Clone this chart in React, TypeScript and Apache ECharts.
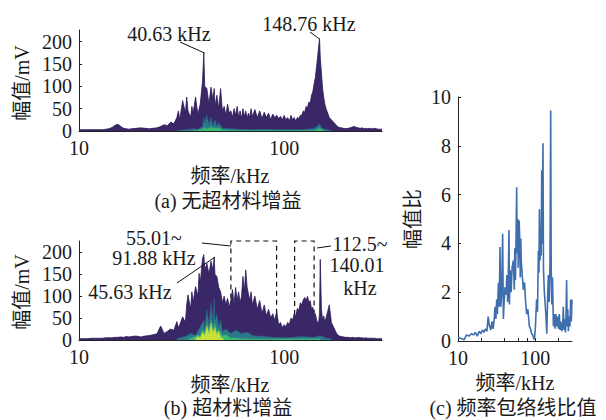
import React, { useEffect, useRef } from "react";
import * as echarts from "echarts";

// ---------- data ----------
const freqAB = [
  10, 10.5, 11, 11.5, 12, 12.5, 13, 13.5, 14, 14.5, 15, 15.5, 16, 16.5, 17, 17.5, 18, 19, 20, 21, 22, 23, 24, 25,
  26, 27, 28, 29, 30, 30.5, 31, 32, 33, 33.5, 34, 35, 35.5, 36, 37, 38, 38.5, 39, 40, 40.6, 41, 42,
  43, 44, 45, 45.6, 46, 47, 48, 49, 50, 51, 52, 53, 54, 55, 56, 57, 58, 59, 60, 61, 62, 63, 64, 65, 66, 67, 68, 69, 70,
  72, 74, 76, 78, 80, 82, 84, 86, 88, 90, 92, 94, 96, 98, 100,
  102, 104, 106, 108, 110, 112, 114, 116, 118, 120, 122, 124, 126, 128, 130, 132, 134, 136, 138, 140,
  142, 144, 146, 147, 148.8, 150, 152, 154, 156, 158, 160, 163, 166, 170, 174, 178, 182, 186, 190, 195,
  200, 205, 210, 215, 220, 225, 230, 235, 240, 245, 250, 255, 260, 265, 270, 276, 282, 288, 294, 300,
];

// (a) no metamaterial gain – envelope of spectra (mV)
const ampA = [
  3, 3, 3, 3, 3, 3, 3, 4, 5, 8, 13, 15, 10, 6, 5, 4, 5, 6, 7, 6, 5, 6, 7, 10,
  14, 12, 20, 16, 30, 45, 25, 68, 40, 76, 45, 30, 55, 40, 76, 35, 50, 60, 110, 175, 100, 95,
  60, 98, 70, 95, 55, 80, 50, 95, 45, 55, 35, 60, 40, 45, 30, 50, 35, 55, 30, 45, 28, 50, 32, 45, 28, 40, 30, 50, 32,
  48, 30, 45, 28, 42, 30, 40, 25, 38, 30, 35, 28, 33, 25, 35,
  25, 30, 22, 35, 25, 30, 22, 30, 28, 35, 35, 45, 42, 55, 52, 65, 62, 80, 88, 105,
  120, 145, 170, 185, 207, 165, 130, 95, 75, 60, 50, 40, 30, 25, 20, 15, 10, 8, 7, 6,
  5, 6, 7, 9, 10, 8, 7, 6, 7, 5, 6, 5, 6, 5, 5, 6, 5, 4, 4, 4,
];

// (b) with metamaterial gain – envelope of spectra (mV)
const ampB = [
  3, 3, 3, 4, 4, 4, 4, 5, 5, 5, 6, 6, 7, 6, 8, 7, 8, 9, 7, 9, 10, 12, 14, 32,
  15, 20, 25, 22, 42, 28, 35, 53, 40, 80, 103, 70, 110, 85, 122, 100, 152, 130, 185, 195, 160, 175,
  150, 180, 160, 189, 150, 145, 120, 110, 85, 100, 80, 95, 75, 90, 115, 80, 120, 90, 110, 85, 100, 145, 110, 160, 120, 105, 90, 110, 80,
  100, 70, 90, 60, 80, 55, 70, 50, 60, 45, 65, 35, 40, 28, 35,
  30, 40, 35, 50, 45, 60, 55, 72, 68, 85, 80, 92, 97, 90, 100, 85, 90, 70, 75, 55,
  60, 45, 40, 35, 60, 184, 70, 45, 55, 40, 50, 65, 80, 40, 30, 20, 12, 9, 8, 7,
  6, 6, 5, 6, 5, 5, 6, 5, 5, 4, 5, 4, 4, 4, 4, 4, 3, 3, 3, 3,
];

// lower (lighter) spectra layers
const tealAF = [30, 33, 36, 38, 40, 40.6, 41, 42, 43, 44, 45, 46, 47, 48, 50, 55, 60, 70, 80, 90, 100, 115, 130, 140, 145, 148.8, 152, 158, 170];
const tealAV = [1, 3, 5, 4, 10, 30, 18, 35, 15, 30, 12, 25, 10, 18, 6, 5, 4, 3, 4, 3, 3, 3, 4, 6, 10, 16, 8, 4, 1];
const greenAF = [36, 39, 40.6, 42, 44, 46, 48, 50, 55, 140, 145, 148.8, 152, 158];
const greenAV = [1, 3, 8, 5, 9, 6, 7, 3, 1, 1, 4, 7, 3, 1];

const tealBF = [30, 33, 35, 37, 39, 40.6, 41, 42, 43, 44, 45, 45.6, 46, 47, 48, 49, 50, 52, 55, 58, 62, 66, 70, 80, 90, 100, 110, 120, 130, 140, 150, 158, 170];
const tealBV = [3, 8, 15, 10, 30, 45, 25, 70, 35, 85, 40, 95, 45, 60, 30, 45, 20, 25, 15, 22, 15, 18, 10, 8, 6, 5, 6, 8, 7, 6, 10, 5, 2];
const greenBF = [34, 36, 38, 39, 40, 41, 42, 43, 44, 45, 46, 47, 48, 50, 52, 55, 60, 70, 150];
const greenBV = [2, 6, 12, 8, 25, 15, 40, 20, 45, 22, 38, 18, 25, 10, 12, 5, 4, 2, 3];
const yellowBF = [37, 38, 39, 40, 41, 42, 43, 44, 45, 46, 47, 48, 49, 51];
const yellowBV = [2, 8, 4, 18, 10, 30, 14, 38, 16, 28, 12, 20, 6, 1];

// (c) envelope ratio
const ratioF = [
  10, 11, 12, 12.9, 13.9, 14.9, 15.9, 16.8, 17.8, 18.8,
  19.8, 20.8, 21.7, 22.7, 23.7, 24.6, 25.6, 26.6, 27.5, 28.5,
  29.5, 30.2, 31, 31.7, 32.4, 33.4, 34.3, 35, 35.8, 36.8,
  37.9, 38.7, 39.6, 40.6, 41.9, 43, 44, 45, 45.8, 46.4,
  47.4, 48.8, 50.2, 52.2, 53.6, 54.5, 55.5, 56.5, 57.6, 58.4,
  59.4, 60.3, 61.9, 63.2, 64.1, 65.1, 66, 68, 70.3, 72.8,
  75.2, 77.6, 80.4, 84.1, 87.2, 90, 92.9, 94.8, 97.7, 100.5,
  104.4, 107.2, 110, 112, 113.5, 115.8, 117.7, 119.6, 121.5, 123.4,
  126.2, 128.1, 131, 134.8, 138.6, 141.4, 145.2, 148.1, 151.8, 155.6,
  158.9, 161.3, 164.1, 167.9, 172.2, 176.4, 181.1, 185.3, 190, 195.2,
  199.8, 205.4, 210, 215.6, 221.2, 226.8, 231.4, 236, 241.6, 247.1,
  251.7, 255.4, 260, 264.6, 269.2, 274.7, 282, 288, 294, 300,
];
const ratioV = [
  0.15, 0.1, 0.05, 0.25, 0.2, 0.3, 0.25, 0.35, 0.2, 0.4,
  0.3, 0.45, 0.35, 0.5, 0.4, 1.0, 0.6, 0.45, 0.8, 0.5,
  0.9, 1.4, 0.9, 1.7, 1.1, 2.4, 1.4, 3.85, 1.4, 2.0,
  4.4, 0.9, 1.6, 2.2, 1.9, 2.7, 1.6, 3.0, 4.55, 1.5,
  2.9, 2.0, 3.0, 3.3, 2.1, 3.8, 2.5, 4.2, 6.3, 3.6,
  5.0, 3.0, 4.95, 4.1, 2.6, 4.2, 3.3, 2.7, 2.1, 2.4,
  1.6, 1.1, 1.3, 0.6, 0.5, 0.3, 0.25, 0.15, 0.05, 0.5,
  1.7, 1.2, 3.7, 2.8, 5.4, 3.3, 4.6, 3.5, 7.0, 4.0,
  8.1, 3.0, 2.1, 1.5, 0.9, 0.3, 1.8, 2.7, 1.6, 3.2,
  9.45, 3.0, 1.5, 2.6, 0.6, 1.1, 0.5, 1.1, 0.6, 1.0,
  0.5, 1.1, 0.45, 0.8, 0.4, 0.6, 1.4, 0.45, 0.9, 0.35,
  1.2, 2.5, 0.6, 1.3, 0.4, 1.0, 0.6, 1.7, 0.8, 1.7,
];

const bandRanges = [
  [55.01, 91.88],
  [112.5, 140.01],
];

const xMajorLabels = [10, 100];
const xTickVals = [10, 20, 40, 60, 80, 100, 200];
const ampTicks = [0, 50, 100, 150, 200];
const ratioTicks = [0, 2, 4, 6, 8, 10];

// ---------- styling ----------
const FONT = "'Liberation Serif', 'Times New Roman', 'Noto Sans CJK SC', serif";
const FS = 20;
const INK = "#1a1a1a";
const PURPLE = "#3a2767";
const PURPLE_LINE = "#2b1957";

const zip = (f: number[], v: number[]) => f.map((x, i) => [x, v[i]]);

function xAxisLog(gridIndex: number) {
  return {
    type: "log",
    logBase: 10,
    min: 10,
    max: 300,
    gridIndex,
    axisLine: { show: true, onZero: false, lineStyle: { color: "#222", width: 1 } },
    axisTick: { show: true, inside: true, length: 3, customValues: xTickVals, lineStyle: { color: "#222" } },
    axisLabel: {
      color: INK,
      fontFamily: FONT,
      fontSize: FS,
      margin: 7,
      customValues: xMajorLabels,
      formatter: (v: number) => (xMajorLabels.some((m) => Math.abs(m - v) < 1e-6) ? String(Math.round(v)) : ""),
    },
    splitLine: { show: false },
    minorTick: { show: false },
  };
}

function yAxisVal(gridIndex: number, max: number, interval: number, ticks: number[]) {
  return {
    type: "value",
    gridIndex,
    min: 0,
    max,
    interval,
    axisLine: { show: true, onZero: false, lineStyle: { color: "#222", width: 1 } },
    axisTick: { show: true, inside: true, length: 3, customValues: ticks, lineStyle: { color: "#222" } },
    axisLabel: {
      color: INK,
      fontFamily: FONT,
      fontSize: FS,
      margin: 7,
      customValues: ticks,
      formatter: (v: number) => (ticks.some((t) => Math.abs(t - v) < 1e-6) ? String(v) : ""),
    },
    splitLine: { show: false },
  };
}

function areaSeries(xi: number, data: number[][], fill: string, line: string, z: number, lw = 0.8) {
  return {
    type: "line",
    xAxisIndex: xi,
    yAxisIndex: xi,
    data,
    showSymbol: false,
    symbol: "none",
    silent: true,
    z,
    lineStyle: { color: line, width: lw },
    areaStyle: { color: fill, opacity: 1 },
  };
}

function txt(text: string, x: number, y: number, extra: any = {}) {
  return {
    type: "text",
    x,
    y,
    silent: true,
    z: 100,
    ...extra,
    style: { text, fill: INK, fontFamily: FONT, fontSize: FS, align: "center", verticalAlign: "middle" },
  };
}
function ln(x1: number, y1: number, x2: number, y2: number) {
  return { type: "line", silent: true, z: 100, shape: { x1, y1, x2, y2 }, style: { stroke: "#111", lineWidth: 1 } };
}

export default function App() {
  const ref = useRef<HTMLDivElement>(null);
  useEffect(() => {
    if (!ref.current) return;
    const chart = echarts.init(ref.current, undefined, { renderer: "svg" });
    const option: any = {
      animation: false,
      backgroundColor: "#ffffff",
      grid: [
        { left: 79, right: 224, top: 30, bottom: 289 },
        { left: 79, right: 224, top: 241, bottom: 80 },
        { left: 458, right: 34, top: 97, bottom: 79 },
      ],
      xAxis: [xAxisLog(0), xAxisLog(1), xAxisLog(2)],
      yAxis: [
        yAxisVal(0, 226, 50, ampTicks),
        yAxisVal(1, 226, 50, ampTicks),
        yAxisVal(2, 10, 2, ratioTicks),
      ],
      series: [
        areaSeries(0, zip(freqAB, ampA), PURPLE, PURPLE_LINE, 2),
        areaSeries(0, zip(tealAF, tealAV), "#2b7a8a", "#2d5f85", 3, 0.6),
        areaSeries(0, zip(greenAF, greenAV), "#3dbb74", "#2f9e78", 4, 0.6),
        {
          type: "line",
          xAxisIndex: 1,
          yAxisIndex: 1,
          data: [[10, 0]],
          showSymbol: false,
          symbol: "none",
          lineStyle: { width: 0 },
          silent: true,
          z: 1,
          markArea: {
            silent: true,
            itemStyle: { color: "rgba(0,0,0,0)", borderColor: "#111", borderWidth: 1.2, borderType: [5, 4] },
            data: bandRanges.map((r) => [
              { xAxis: r[0], yAxis: 0 },
              { xAxis: r[1], yAxis: 226 },
            ]),
          },
        },
        areaSeries(1, zip(freqAB, ampB), PURPLE, PURPLE_LINE, 2),
        areaSeries(1, zip(tealBF, tealBV), "#2b7a8a", "#2d5f85", 3, 0.6),
        areaSeries(1, zip(greenBF, greenBV), "#3dbb74", "#2f9e78", 4, 0.6),
        areaSeries(1, zip(yellowBF, yellowBV), "#c9e03a", "#a8d440", 5, 0.6),
        {
          type: "line",
          xAxisIndex: 2,
          yAxisIndex: 2,
          data: zip(ratioF, ratioV),
          showSymbol: false,
          symbol: "none",
          silent: true,
          lineStyle: { color: "#3f6eae", width: 1.6 },
        },
      ],
      graphic: [
        // panel (a)
        txt("40.63 kHz", 169, 34),
        ln(180, 42, 204.5, 53),
        txt("148.76 kHz", 309, 24),
        ln(310, 32, 319.5, 39),
        txt("幅值/mV", 22, 83, { rotation: Math.PI / 2 }),
        txt("频率/kHz", 230, 176),
        txt("(a) 无超材料增益", 228, 201),
        // panel (b)
        txt("55.01~", 154, 238),
        ln(202, 243, 231, 246),
        txt("91.88 kHz", 154, 258),
        txt("45.63 kHz", 130, 292),
        ln(177, 283, 215, 257),
        ln(317, 248, 331, 246),
        txt("112.5~", 360, 244),
        txt("140.01", 357, 265),
        txt("kHz", 360, 288),
        txt("幅值/mV", 22, 292, { rotation: Math.PI / 2 }),
        txt("频率/kHz", 230, 385),
        txt("(b) 超材料增益", 228, 408),
        // panel (c)
        txt("幅值比", 413, 219, { rotation: Math.PI / 2 }),
        txt("频率/kHz", 515, 383),
        txt("(c) 频率包络线比值", 513, 408),
      ],
    };
    chart.setOption(option);
    return () => chart.dispose();
  }, []);
  return (
    <div
      ref={ref}
      style={{ position: "fixed", left: 0, top: 0, width: 606, height: 420, background: "#fff" }}
    />
  );
}
